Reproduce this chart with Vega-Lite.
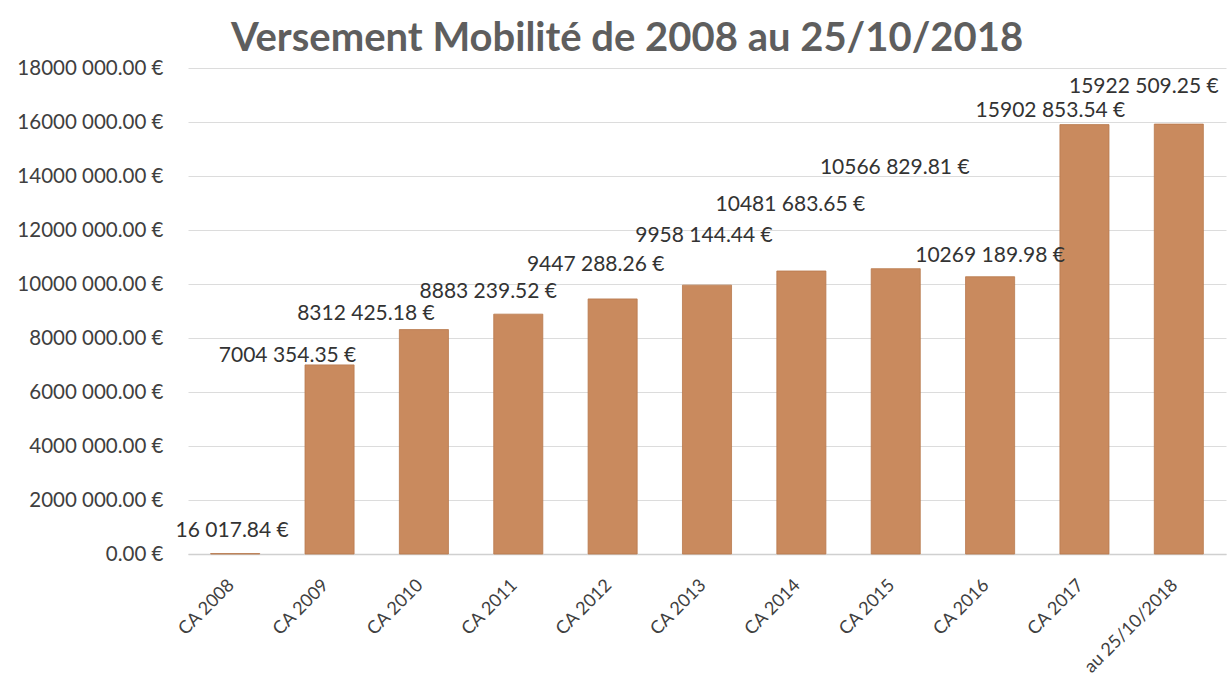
{
  "$schema": "https://vega.github.io/schema/vega-lite/v6.json",
  "autosize": "none",
  "width": 1038,
  "height": 486,
  "padding": {"left": 188, "top": 68, "right": 1, "bottom": 128},
  "background": "white",
  "title": {
    "text": "Versement Mobilité de 2008 au 25/10/2018",
    "font": "Lato",
    "fontSize": 40,
    "fontWeight": "bold",
    "color": "#5E5E5E",
    "anchor": "middle",
    "dx": -80,
    "offset": -1
  },
  "data": {
    "values": [
      {"periode": "CA 2008", "montant": 16017.84, "libelle": "16 017.84 €"},
      {"periode": "CA 2009", "montant": 7004354.35, "libelle": "7004 354.35 €"},
      {"periode": "CA 2010", "montant": 8312425.18, "libelle": "8312 425.18 €"},
      {"periode": "CA 2011", "montant": 8883239.52, "libelle": "8883 239.52 €"},
      {"periode": "CA 2012", "montant": 9447288.26, "libelle": "9447 288.26 €"},
      {"periode": "CA 2013", "montant": 9958144.44, "libelle": "9958 144.44 €"},
      {"periode": "CA 2014", "montant": 10481683.65, "libelle": "10481 683.65 €"},
      {"periode": "CA 2015", "montant": 10566829.81, "libelle": "10566 829.81 €"},
      {"periode": "CA 2016", "montant": 10269189.98, "libelle": "10269 189.98 €"},
      {"periode": "CA 2017", "montant": 15902853.54, "libelle": "15902 853.54 €"},
      {"periode": "au 25/10/2018", "montant": 15922509.25, "libelle": "15922 509.25 €"}
    ]
  },
  "encoding": {
    "x": {
      "field": "periode",
      "type": "nominal",
      "sort": null,
      "scale": {"paddingInner": 0.48, "paddingOuter": 0.24},
      "axis": {
        "title": null,
        "labelAngle": -45,
        "labelFont": "Lato",
        "labelFontSize": 18,
        "labelColor": "#404040",
        "labelPadding": 22,
        "labelOffset": -10,
        "ticks": false,
        "domain": true,
        "domainColor": "#D0D0D0",
        "domainWidth": 1.5,
        "grid": false
      }
    },
    "y": {
      "field": "montant",
      "type": "quantitative",
      "scale": {"domain": [0, 18000000], "nice": false},
      "axis": {
        "title": null,
        "values": [0, 2000000, 4000000, 6000000, 8000000, 10000000, 12000000, 14000000, 16000000, 18000000],
        "labelExpr": "datum.value == 0 ? '0.00 €' : (datum.value / 1000) + ' 000.00 €'",
        "labelFont": "Lato",
        "labelFontSize": 20.5,
        "labelColor": "#404040",
        "labelPadding": 25,
        "ticks": false,
        "domain": false,
        "grid": true,
        "gridColor": "#DCDCDC",
        "gridWidth": 1
      }
    }
  },
  "layer": [
    {"mark": {"type": "bar", "color": "#C98A5E", "stroke": "#B9784C", "strokeWidth": 0.8}},
    {"transform": [{"filter": "datum.periode == 'CA 2008'"}], "mark": {"type": "text", "font": "Lato", "fontSize": 21, "color": "#333333", "baseline": "middle", "dx": -3, "dy": -23}, "encoding": {"text": {"field": "libelle"}}},
    {"transform": [{"filter": "datum.periode == 'CA 2009'"}], "mark": {"type": "text", "font": "Lato", "fontSize": 21, "color": "#333333", "baseline": "middle", "dx": -42, "dy": -9}, "encoding": {"text": {"field": "libelle"}}},
    {"transform": [{"filter": "datum.periode == 'CA 2010'"}], "mark": {"type": "text", "font": "Lato", "fontSize": 21, "color": "#333333", "baseline": "middle", "dx": -58, "dy": -16}, "encoding": {"text": {"field": "libelle"}}},
    {"transform": [{"filter": "datum.periode == 'CA 2011'"}], "mark": {"type": "text", "font": "Lato", "fontSize": 21, "color": "#333333", "baseline": "middle", "dx": -30, "dy": -22}, "encoding": {"text": {"field": "libelle"}}},
    {"transform": [{"filter": "datum.periode == 'CA 2012'"}], "mark": {"type": "text", "font": "Lato", "fontSize": 21, "color": "#333333", "baseline": "middle", "dx": -17, "dy": -34}, "encoding": {"text": {"field": "libelle"}}},
    {"transform": [{"filter": "datum.periode == 'CA 2013'"}], "mark": {"type": "text", "font": "Lato", "fontSize": 21, "color": "#333333", "baseline": "middle", "dx": -3, "dy": -49}, "encoding": {"text": {"field": "libelle"}}},
    {"transform": [{"filter": "datum.periode == 'CA 2014'"}], "mark": {"type": "text", "font": "Lato", "fontSize": 21, "color": "#333333", "baseline": "middle", "dx": -11, "dy": -66}, "encoding": {"text": {"field": "libelle"}}},
    {"transform": [{"filter": "datum.periode == 'CA 2015'"}], "mark": {"type": "text", "font": "Lato", "fontSize": 21, "color": "#333333", "baseline": "middle", "dx": -1, "dy": -101}, "encoding": {"text": {"field": "libelle"}}},
    {"transform": [{"filter": "datum.periode == 'CA 2016'"}], "mark": {"type": "text", "font": "Lato", "fontSize": 21, "color": "#333333", "baseline": "middle", "dx": 0, "dy": -21}, "encoding": {"text": {"field": "libelle"}}},
    {"transform": [{"filter": "datum.periode == 'CA 2017'"}], "mark": {"type": "text", "font": "Lato", "fontSize": 21, "color": "#333333", "baseline": "middle", "dx": -34, "dy": -14}, "encoding": {"text": {"field": "libelle"}}},
    {"transform": [{"filter": "datum.periode == 'au 25/10/2018'"}], "mark": {"type": "text", "font": "Lato", "fontSize": 21, "color": "#333333", "baseline": "middle", "dx": -35, "dy": -37}, "encoding": {"text": {"field": "libelle"}}}
  ],
  "config": {
    "view": {"stroke": null}
  }
}
